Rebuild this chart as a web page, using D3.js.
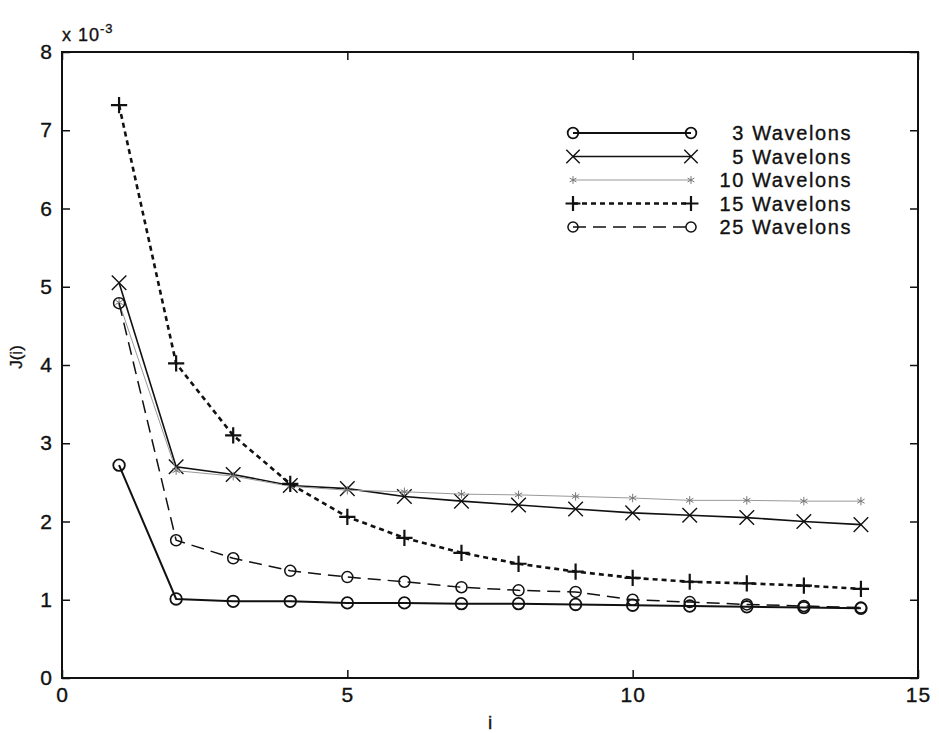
<!DOCTYPE html>
<html>
<head>
<meta charset="utf-8">
<script src="https://cdn.jsdelivr.net/npm/d3@7"></script>
<style>
  html, body { margin: 0; padding: 0; background: #ffffff; }
  svg { display: block; }
  text { font-family: "Liberation Sans", Arial, sans-serif; fill: #111; stroke: #111; stroke-width: 0.35px; }
</style>
</head>
<body>
<svg id="chart" width="939" height="733"></svg>
<script>
// Iteration index
const iters = [1, 2, 3, 4, 5, 6, 7, 8, 9, 10, 11, 12, 13, 14];

// Cost J(i), in units of 1e-3
const w3  = [2.72, 1.01, 0.98, 0.98, 0.96, 0.96, 0.95, 0.95, 0.94, 0.93, 0.92, 0.91, 0.90, 0.89];
const w5  = [5.05, 2.70, 2.60, 2.46, 2.42, 2.32, 2.26, 2.21, 2.16, 2.11, 2.08, 2.05, 2.00, 1.96];
const w10 = [4.80, 2.65, 2.58, 2.45, 2.40, 2.38, 2.35, 2.34, 2.32, 2.30, 2.27, 2.27, 2.26, 2.26];
const w15 = [7.32, 4.02, 3.10, 2.48, 2.06, 1.79, 1.60, 1.46, 1.36, 1.28, 1.23, 1.21, 1.18, 1.14];
const w25 = [4.79, 1.76, 1.53, 1.37, 1.29, 1.23, 1.16, 1.12, 1.10, 1.00, 0.97, 0.94, 0.92, 0.90];

const seriesNames = ["3 Wavelons", "5 Wavelons", "10 Wavelons", "15 Wavelons", "25 Wavelons"];

const xTicks = [0, 5, 10, 15];
const yTicks = [0, 1, 2, 3, 4, 5, 6, 7, 8];

const svg = d3.select("#chart");
const L = 62, R = 918, T = 52, B = 678;

const x = d3.scaleLinear().domain([0, 15]).range([L, R]);
const y = d3.scaleLinear().domain([0, 8]).range([B, T]);

// Line and marker style per series
const styles = [
  { values: w3,  stroke: "#111", width: 2,   dash: null,   mark: d3.symbolCircle,   size: 105, mstroke: "#111", mwidth: 1.8 },
  { values: w5,  stroke: "#111", width: 1.6, dash: null,   mark: d3.symbolX,        size: 140, mstroke: "#111", mwidth: 1.4 },
  { values: w10, stroke: "#999", width: 1,   dash: null,   mark: d3.symbolAsterisk, size: 50,  mstroke: "#777", mwidth: 1 },
  { values: w15, stroke: "#111", width: 2.6, dash: "5,4",  mark: d3.symbolPlus,     size: 88,  mstroke: "#111", mwidth: 2.2 },
  { values: w25, stroke: "#111", width: 1.5, dash: "13,7", mark: d3.symbolCircle,   size: 95,  mstroke: "#111", mwidth: 1.5 }
];

const line = d3.line().x(d => x(d[0])).y(d => y(d[1]));

styles.forEach(s => {
  const pts = iters.map((it, k) => [it, s.values[k]]);
  svg.append("path")
    .attr("d", line(pts))
    .attr("fill", "none")
    .attr("stroke", s.stroke)
    .attr("stroke-width", s.width)
    .attr("stroke-dasharray", s.dash);
  const sym = d3.symbol().type(s.mark).size(s.size);
  svg.append("g").selectAll("path")
    .data(pts)
    .join("path")
    .attr("transform", d => `translate(${x(d[0])},${y(d[1])})`)
    .attr("d", sym)
    .attr("fill", "none")
    .attr("stroke", s.mstroke)
    .attr("stroke-width", s.mwidth);
});

// Axes with inward ticks on all four sides
const axisFont = g => g.selectAll("text")
  .style("font-family", "'Liberation Sans', Arial, sans-serif")
  .style("font-size", "21px")
  .style("letter-spacing", "1px")
  .attr("fill", "#111");

svg.append("g")
  .attr("transform", `translate(0,${B})`)
  .call(d3.axisBottom(x).tickValues(xTicks).tickSize(-8).tickPadding(9).tickFormat(d3.format("d")))
  .call(axisFont)
  .call(g => g.select(".domain").remove())
  .call(g => g.selectAll("line").attr("stroke", "#111").attr("stroke-width", 1.5));

svg.append("g")
  .attr("transform", `translate(0,${T})`)
  .call(d3.axisTop(x).tickValues(xTicks).tickSize(-8).tickFormat(""))
  .call(g => g.select(".domain").remove())
  .call(g => g.selectAll("line").attr("stroke", "#111").attr("stroke-width", 1.5));

svg.append("g")
  .attr("transform", `translate(${L},0)`)
  .call(d3.axisLeft(y).tickValues(yTicks).tickSize(-8).tickPadding(9).tickFormat(d3.format("d")))
  .call(axisFont)
  .call(g => g.select(".domain").remove())
  .call(g => g.selectAll("line").attr("stroke", "#111").attr("stroke-width", 1.5));

svg.append("g")
  .attr("transform", `translate(${R},0)`)
  .call(d3.axisRight(y).tickValues(yTicks).tickSize(-8).tickFormat(""))
  .call(g => g.select(".domain").remove())
  .call(g => g.selectAll("line").attr("stroke", "#111").attr("stroke-width", 1.5));

// Plot frame
svg.append("rect")
  .attr("x", L).attr("y", T)
  .attr("width", R - L).attr("height", B - T)
  .attr("fill", "none").attr("stroke", "#111").attr("stroke-width", 2);

// Exponent note
const expo = svg.append("text").attr("x", L).attr("y", 41)
  .style("font-size", "18px").style("letter-spacing", "1px");
expo.append("tspan").text("x 10");
expo.append("tspan").attr("dy", -8).style("font-size", "13px").text("-3");

// Axis titles
svg.append("text")
  .attr("x", (L + R) / 2).attr("y", 729)
  .attr("text-anchor", "middle").style("font-size", "19px").text("i");
svg.append("text")
  .attr("transform", `translate(22,${(T + B) / 2 - 8}) rotate(-90)`)
  .attr("text-anchor", "middle").style("font-size", "17px").text("J(i)");

// Legend
const lx0 = 573, lx1 = 691, ly0 = 133, lstep = 23.5;
styles.forEach((s, k) => {
  const ly = ly0 + k * lstep;
  svg.append("line")
    .attr("x1", lx0).attr("x2", lx1).attr("y1", ly).attr("y2", ly)
    .attr("stroke", s.stroke).attr("stroke-width", s.width)
    .attr("stroke-dasharray", s.dash);
  const sym = d3.symbol().type(s.mark).size(s.size * 0.85);
  [lx0, lx1].forEach(px => {
    svg.append("path")
      .attr("transform", `translate(${px},${ly})`)
      .attr("d", sym)
      .attr("fill", "none")
      .attr("stroke", s.mstroke)
      .attr("stroke-width", s.mwidth);
  });
  svg.append("text")
    .attr("x", 852).attr("y", ly + 7)
    .attr("text-anchor", "end")
    .style("font-size", "20px")
    .style("letter-spacing", "1.6px")
    .text(seriesNames[k]);
});
</script>
</body>
</html>
